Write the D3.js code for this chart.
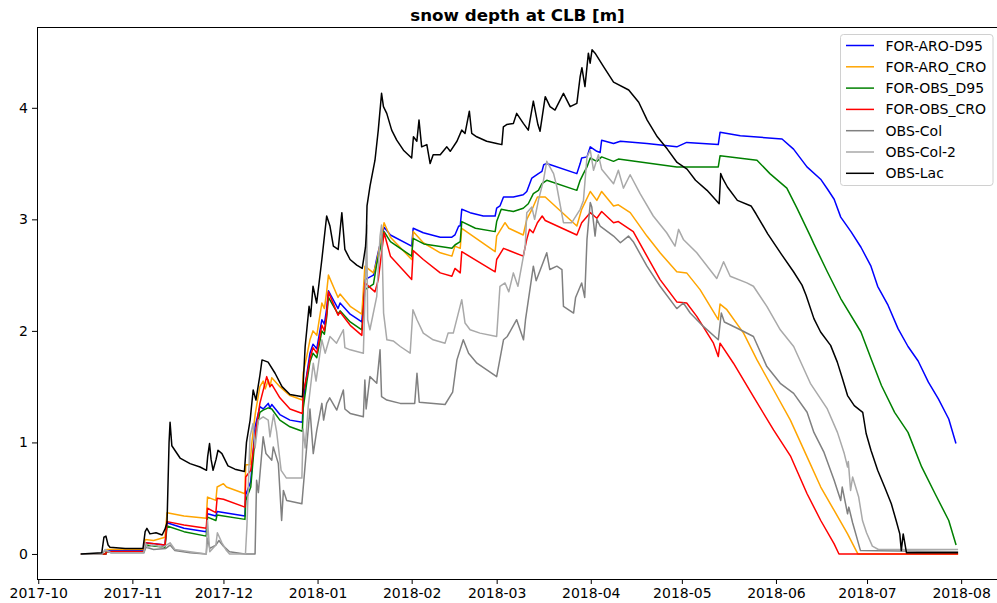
<!DOCTYPE html>
<html>
<head>
<meta charset="utf-8">
<script src="https://cdn.jsdelivr.net/npm/d3@7"></script>
<style>
  body { margin: 0; background: #fff; }
  text { font-family: "DejaVu Sans", sans-serif; }
</style>
</head>
<body>
<svg width="997" height="603"></svg>
<script>
// ---- data (date "YYYY-MM-DD HH", snow depth in m) ----
var forAroD95 = [["2017-10-15 00",0],["2017-10-23 06",0],["2017-10-23 12",0.03],["2017-11-04 18",0.03],["2017-11-05 04",0.1],["2017-11-11 18",0.08],["2017-11-12 10",0.28],["2017-11-18 00",0.23],["2017-11-25 08",0.2],["2017-11-25 18",0.36],["2017-11-28 12",0.34],["2017-11-28 22",0.38],["2017-12-08 02",0.34],["2017-12-08 08",0.53],["2017-12-10 00",0.65],["2017-12-11 10",1.14],["2017-12-13 00",1.32],["2017-12-14 02",1.3],["2017-12-15 18",1.35],["2017-12-16 08",1.31],["2017-12-16 22",1.34],["2017-12-19 14",1.25],["2017-12-22 22",1.2],["2017-12-27 00",1.18],["2017-12-27 06",1.37],["2017-12-28 12",1.62],["2017-12-29 12",1.8],["2017-12-30 12",1.88],["2017-12-31 18",1.84],["2018-01-02 10",2.1],["2018-01-03 06",2.06],["2018-01-04 00",2.2],["2018-01-04 14",2.36],["2018-01-07 18",2.2],["2018-01-08 10",2.25],["2018-01-11 18",2.15],["2018-01-15 14",2.08],["2018-01-16 14",2.46],["2018-01-19 10",2.5],["2018-01-20 12",2.65],["2018-01-22 22",2.93],["2018-01-25 00",2.86],["2018-02-01 00",2.76],["2018-02-01 12",2.92],["2018-02-04 20",2.88],["2018-02-10 10",2.84],["2018-02-14 06",2.84],["2018-02-15 06",2.86],["2018-02-16 12",2.94],["2018-02-17 00",2.94],["2018-02-17 12",3.09],["2018-02-20 06",3.06],["2018-02-24 14",3.03],["2018-02-28 12",3.03],["2018-03-01 00",3.1],["2018-03-02 02",3.12],["2018-03-03 06",3.2],["2018-03-06 12",3.2],["2018-03-09 18",3.22],["2018-03-10 22",3.25],["2018-03-12 14",3.37],["2018-03-14 18",3.41],["2018-03-15 22",3.43],["2018-03-16 12",3.49],["2018-03-17 12",3.5],["2018-03-27 10",3.41],["2018-03-28 12",3.5],["2018-03-29 00",3.55],["2018-03-30 18",3.56],["2018-03-31 20",3.65],["2018-04-03 00",3.61],["2018-04-04 02",3.6],["2018-04-04 14",3.71],["2018-04-08 12",3.68],["2018-04-10 18",3.7],["2018-04-19 12",3.68],["2018-04-29 08",3.65],["2018-05-02 14",3.69],["2018-05-13 00",3.67],["2018-05-13 14",3.78],["2018-05-20 06",3.75],["2018-06-03 00",3.72],["2018-06-06 19",3.63],["2018-06-11 05",3.47],["2018-06-15 17",3.36],["2018-06-18 00",3.27],["2018-06-20 04",3.18],["2018-06-22 08",3.02],["2018-06-25 17",2.89],["2018-06-29 00",2.75],["2018-07-02 07",2.58],["2018-07-04 12",2.4],["2018-07-07 22",2.23],["2018-07-11 05",2.02],["2018-07-14 12",1.86],["2018-07-17 20",1.73],["2018-07-21 05",1.54],["2018-07-24 12",1.39],["2018-07-27 22",1.21],["2018-07-30 07",0.99]];

var forAroCro = [["2017-10-15 00",0],["2017-10-23 06",0],["2017-10-23 12",0.04],["2017-11-04 18",0.04],["2017-11-05 04",0.13],["2017-11-08 00",0.12],["2017-11-11 18",0.15],["2017-11-12 10",0.37],["2017-11-18 00",0.34],["2017-11-25 08",0.32],["2017-11-25 18",0.51],["2017-11-28 12",0.48],["2017-11-28 22",0.6],["2017-12-01 00",0.63],["2017-12-02 00",0.6],["2017-12-08 02",0.54],["2017-12-08 08",0.8],["2017-12-09 18",0.8],["2017-12-10 08",0.99],["2017-12-11 00",1.15],["2017-12-11 12",1.26],["2017-12-13 00",1.5],["2017-12-14 02",1.55],["2017-12-14 18",1.48],["2017-12-15 18",1.56],["2017-12-16 08",1.5],["2017-12-16 22",1.58],["2017-12-19 14",1.5],["2017-12-22 22",1.42],["2017-12-27 00",1.38],["2017-12-27 06",1.62],["2017-12-28 12",1.78],["2017-12-29 12",1.92],["2017-12-30 12",2.0],["2017-12-31 18",1.96],["2018-01-02 10",2.25],["2018-01-03 06",2.2],["2018-01-04 00",2.35],["2018-01-04 14",2.5],["2018-01-07 18",2.3],["2018-01-08 10",2.33],["2018-01-11 18",2.22],["2018-01-15 14",2.15],["2018-01-16 14",2.58],["2018-01-19 10",2.52],["2018-01-20 12",2.62],["2018-01-22 22",2.97],["2018-01-25 00",2.84],["2018-02-01 00",2.64],["2018-02-01 12",2.89],["2018-02-04 20",2.79],["2018-02-10 10",2.7],["2018-02-14 06",2.67],["2018-02-15 06",2.76],["2018-02-17 00",2.74],["2018-02-17 12",2.92],["2018-02-28 12",2.71],["2018-03-01 00",2.85],["2018-03-03 18",2.97],["2018-03-05 00",2.92],["2018-03-09 18",2.86],["2018-03-10 22",3.0],["2018-03-13 00",3.11],["2018-03-14 10",3.2],["2018-03-17 00",3.2],["2018-03-27 10",2.94],["2018-03-29 00",3.09],["2018-03-31 20",3.25],["2018-04-03 00",3.17],["2018-04-04 14",3.25],["2018-04-08 12",3.12],["2018-04-10 02",3.13],["2018-04-14 00",3.06],["2018-04-19 12",2.85],["2018-04-23 20",2.7],["2018-04-29 08",2.53],["2018-05-02 14",2.52],["2018-05-07 00",2.37],["2018-05-13 00",2.1],["2018-05-13 14",2.24],["2018-05-15 20",2.19],["2018-05-21 08",1.98],["2018-05-25 18",1.74],["2018-05-31 06",1.47],["2018-06-05 18",1.2],["2018-06-11 06",0.87],["2018-06-15 18",0.6],["2018-06-20 04",0.39],["2018-06-24 14",0.18],["2018-06-27 10",0.03],["2018-06-28 00",0],["2018-07-31 00",0]];

var forObsD95 = [["2017-10-15 00",0],["2017-10-23 06",0],["2017-10-23 12",0.02],["2017-11-04 18",0.02],["2017-11-05 04",0.08],["2017-11-11 18",0.06],["2017-11-12 10",0.25],["2017-11-18 00",0.2],["2017-11-25 08",0.16],["2017-11-25 18",0.33],["2017-11-28 12",0.3],["2017-11-28 22",0.35],["2017-12-08 02",0.31],["2017-12-08 08",0.48],["2017-12-10 00",0.6],["2017-12-11 10",1.05],["2017-12-13 00",1.27],["2017-12-14 02",1.29],["2017-12-15 18",1.31],["2017-12-16 22",1.3],["2017-12-19 14",1.2],["2017-12-22 22",1.14],["2017-12-27 00",1.1],["2017-12-27 06",1.3],["2017-12-28 12",1.55],["2017-12-29 12",1.72],["2017-12-30 12",1.8],["2017-12-31 18",1.76],["2018-01-02 10",2.0],["2018-01-03 06",1.97],["2018-01-04 00",2.12],["2018-01-04 14",2.3],["2018-01-07 18",2.15],["2018-01-08 10",2.18],["2018-01-11 18",2.08],["2018-01-15 14",2.01],["2018-01-16 14",2.37],["2018-01-19 10",2.42],["2018-01-20 12",2.6],["2018-01-22 22",2.89],["2018-01-25 00",2.8],["2018-02-01 00",2.67],["2018-02-01 12",2.83],["2018-02-05 00",2.78],["2018-02-14 06",2.74],["2018-02-15 06",2.77],["2018-02-17 00",2.8],["2018-02-17 12",2.98],["2018-02-22 00",2.92],["2018-02-28 12",2.89],["2018-03-01 00",2.98],["2018-03-02 12",3.09],["2018-03-06 12",3.07],["2018-03-09 18",3.1],["2018-03-11 10",3.14],["2018-03-13 02",3.23],["2018-03-14 18",3.26],["2018-03-15 22",3.32],["2018-03-17 12",3.35],["2018-03-27 10",3.26],["2018-03-28 12",3.35],["2018-03-29 14",3.41],["2018-03-30 18",3.47],["2018-03-31 20",3.55],["2018-04-03 00",3.52],["2018-04-04 14",3.56],["2018-04-08 12",3.52],["2018-04-10 02",3.54],["2018-04-29 08",3.47],["2018-05-13 00",3.47],["2018-05-13 14",3.57],["2018-05-25 18",3.53],["2018-05-30 00",3.41],["2018-06-04 14",3.28],["2018-06-07 22",3.1],["2018-06-12 08",2.85],["2018-06-13 12",2.78],["2018-06-17 22",2.53],["2018-06-22 08",2.29],["2018-06-29 00",1.99],["2018-07-02 08",1.75],["2018-07-05 18",1.51],["2018-07-10 02",1.27],["2018-07-14 12",1.09],["2018-07-19 00",0.78],["2018-07-23 10",0.54],["2018-07-27 22",0.3],["2018-07-30 08",0.08]];

var forObsCro = [["2017-10-15 00",0],["2017-10-23 06",0],["2017-10-23 12",0.02],["2017-11-04 18",0.02],["2017-11-05 04",0.1],["2017-11-11 18",0.08],["2017-11-12 10",0.29],["2017-11-18 00",0.26],["2017-11-25 08",0.23],["2017-11-25 18",0.41],["2017-11-28 12",0.37],["2017-11-28 22",0.5],["2017-12-01 00",0.49],["2017-12-08 02",0.42],["2017-12-08 08",0.69],["2017-12-10 00",0.75],["2017-12-11 10",1.05],["2017-12-13 00",1.35],["2017-12-15 06",1.59],["2017-12-16 08",1.5],["2017-12-16 22",1.52],["2017-12-19 14",1.4],["2017-12-22 22",1.3],["2017-12-27 00",1.26],["2017-12-27 06",1.45],["2017-12-28 12",1.6],["2017-12-29 12",1.75],["2017-12-30 12",1.85],["2017-12-31 18",1.8],["2018-01-02 10",2.05],["2018-01-03 06",2.0],["2018-01-04 00",2.15],["2018-01-04 14",2.35],["2018-01-07 18",2.14],["2018-01-08 10",2.17],["2018-01-11 18",2.05],["2018-01-15 14",1.96],["2018-01-16 14",2.43],["2018-01-19 22",2.35],["2018-01-21 00",2.46],["2018-01-22 22",2.88],["2018-01-25 00",2.67],["2018-02-01 00",2.46],["2018-02-01 12",2.72],["2018-02-04 20",2.64],["2018-02-10 10",2.52],["2018-02-14 06",2.49],["2018-02-15 06",2.56],["2018-02-17 00",2.52],["2018-02-17 12",2.71],["2018-02-28 12",2.53],["2018-03-01 00",2.64],["2018-03-03 06",2.74],["2018-03-09 18",2.67],["2018-03-10 22",2.82],["2018-03-11 20",2.91],["2018-03-13 00",2.88],["2018-03-14 10",2.97],["2018-03-16 00",3.03],["2018-03-17 00",2.99],["2018-03-27 10",2.86],["2018-03-29 00",2.97],["2018-03-31 20",3.06],["2018-04-03 00",3.01],["2018-04-04 14",3.07],["2018-04-08 12",2.97],["2018-04-10 02",2.98],["2018-04-15 00",2.89],["2018-04-19 12",2.67],["2018-04-23 20",2.46],["2018-04-29 08",2.26],["2018-05-02 14",2.25],["2018-05-05 22",2.13],["2018-05-11 10",1.89],["2018-05-13 00",1.77],["2018-05-13 14",1.89],["2018-05-18 00",1.71],["2018-05-24 14",1.41],["2018-05-31 06",1.11],["2018-06-05 18",0.88],["2018-06-11 06",0.54],["2018-06-15 18",0.3],["2018-06-20 04",0.09],["2018-06-21 18",0],["2018-07-31 00",0]];

var obsCol = [["2017-10-15 00",0],["2017-10-22 00",0],["2017-10-23 00",0.03],["2017-10-25 00",0.01],["2017-11-04 18",0.01],["2017-11-05 12",0.06],["2017-11-08 00",0.04],["2017-11-12 00",0.05],["2017-11-13 10",0.08],["2017-11-15 00",0.03],["2017-11-20 00",0.01],["2017-11-25 08",0],["2017-11-25 18",0.14],["2017-11-26 12",0.05],["2017-11-28 12",0.08],["2017-11-29 12",0.12],["2017-12-01 00",0.07],["2017-12-03 00",0.02],["2017-12-08 00",0],["2017-12-11 10",0],["2017-12-11 22",0.66],["2017-12-12 12",0.55],["2017-12-14 02",1.05],["2017-12-15 00",0.9],["2017-12-16 22",0.84],["2017-12-17 10",0.96],["2017-12-19 02",0.81],["2017-12-20 04",0.3],["2017-12-20 18",0.57],["2017-12-21 20",0.48],["2017-12-26 20",0.45],["2017-12-28 10",0.96],["2017-12-29 12",1.3],["2017-12-30 14",0.9],["2017-12-31 18",1.11],["2018-01-02 10",1.35],["2018-01-03 00",1.2],["2018-01-04 00",1.35],["2018-01-05 00",1.4],["2018-01-07 08",1.29],["2018-01-09 12",1.47],["2018-01-10 00",1.3],["2018-01-11 18",1.26],["2018-01-16 02",1.23],["2018-01-16 14",1.56],["2018-01-17 00",1.3],["2018-01-18 06",1.59],["2018-01-20 12",1.53],["2018-01-21 14",1.83],["2018-01-22 02",1.41],["2018-01-23 20",1.38],["2018-01-28 06",1.35],["2018-02-02 00",1.35],["2018-02-02 18",1.62],["2018-02-03 12",1.36],["2018-02-12 00",1.34],["2018-02-14 12",1.45],["2018-02-15 22",1.74],["2018-02-18 00",1.92],["2018-02-19 18",1.8],["2018-02-22 12",1.71],["2018-02-25 18",1.65],["2018-03-01 00",1.59],["2018-03-03 06",1.92],["2018-03-04 12",1.95],["2018-03-07 14",2.1],["2018-03-09 20",1.92],["2018-03-10 12",2.1],["2018-03-13 02",2.58],["2018-03-14 00",2.45],["2018-03-17 12",2.7],["2018-03-18 12",2.55],["2018-03-20 20",2.58],["2018-03-22 12",2.55],["2018-03-23 00",2.22],["2018-03-26 08",2.16],["2018-03-27 00",2.3],["2018-03-29 00",2.43],["2018-03-30 00",2.3],["2018-03-30 18",2.82],["2018-03-31 20",3.15],["2018-04-01 08",3.11],["2018-04-02 10",2.85],["2018-04-03 00",3.0],["2018-04-04 02",2.94],["2018-04-08 12",2.85],["2018-04-10 18",2.79],["2018-04-13 10",2.85],["2018-04-15 00",2.8],["2018-04-19 12",2.58],["2018-04-23 20",2.4],["2018-04-29 08",2.2],["2018-05-01 12",2.25],["2018-05-03 18",2.16],["2018-05-08 02",2.04],["2018-05-13 00",1.92],["2018-05-14 00",2.16],["2018-05-15 00",2.08],["2018-05-20 06",2.01],["2018-05-24 14",1.95],["2018-05-29 00",1.68],["2018-06-02 10",1.53],["2018-06-06 20",1.44],["2018-06-11 06",1.27],["2018-06-13 12",1.09],["2018-06-16 20",0.91],["2018-06-20 04",0.66],["2018-06-22 08",0.48],["2018-06-22 20",0.6],["2018-06-24 14",0.36],["2018-06-25 00",0.42],["2018-06-26 06",0.28],["2018-06-27 12",0.16],["2018-06-28 20",0.03],["2018-07-31 00",0.02]];

var obsCol2 = [["2017-10-15 00",0],["2017-10-22 00",0],["2017-10-23 00",0.04],["2017-10-25 00",0.01],["2017-11-04 18",0.01],["2017-11-05 06",0.1],["2017-11-06 00",0.06],["2017-11-08 00",0.08],["2017-11-11 00",0.06],["2017-11-13 10",0.1],["2017-11-15 00",0.04],["2017-11-20 00",0.02],["2017-11-25 08",0],["2017-11-25 18",0.3],["2017-11-26 12",0.02],["2017-11-28 12",0.08],["2017-11-29 00",0.19],["2017-11-30 12",0.1],["2017-12-02 00",0.03],["2017-12-03 00",0],["2017-12-08 06",0],["2017-12-08 18",0.26],["2017-12-09 18",1.05],["2017-12-10 18",1.17],["2017-12-11 10",0.95],["2017-12-12 12",1.2],["2017-12-14 02",1.23],["2017-12-15 18",1.2],["2017-12-16 08",1.05],["2017-12-17 12",1.25],["2017-12-18 12",1.1],["2017-12-20 00",0.75],["2017-12-21 18",0.68],["2017-12-26 20",0.68],["2017-12-27 06",1.12],["2017-12-27 22",0.95],["2017-12-28 22",1.32],["2017-12-30 14",1.71],["2017-12-31 12",1.55],["2018-01-02 10",1.92],["2018-01-03 12",1.8],["2018-01-05 02",1.95],["2018-01-07 06",1.89],["2018-01-09 12",2.01],["2018-01-10 00",1.85],["2018-01-11 18",1.83],["2018-01-16 02",1.8],["2018-01-16 20",2.5],["2018-01-17 05",2.95],["2018-01-17 12",2.1],["2018-01-18 06",2.01],["2018-01-20 12",2.31],["2018-01-21 14",2.85],["2018-01-22 02",2.95],["2018-01-22 18",2.16],["2018-01-23 20",1.92],["2018-01-25 22",1.91],["2018-01-28 06",1.86],["2018-01-31 12",1.8],["2018-02-01 10",2.19],["2018-02-02 18",2.1],["2018-02-04 20",1.98],["2018-02-08 02",1.92],["2018-02-12 00",1.89],["2018-02-13 00",1.98],["2018-02-14 17",1.98],["2018-02-17 12",2.28],["2018-02-18 14",2.07],["2018-02-20 06",2.01],["2018-02-23 12",1.98],["2018-03-01 00",1.95],["2018-03-02 02",2.4],["2018-03-03 18",2.43],["2018-03-05 00",2.35],["2018-03-06 12",2.52],["2018-03-08 00",2.4],["2018-03-10 10",2.76],["2018-03-10 22",3.06],["2018-03-12 14",3.11],["2018-03-13 12",3.0],["2018-03-14 18",3.17],["2018-03-16 10",3.35],["2018-03-17 12",3.52],["2018-03-19 18",3.41],["2018-03-20 20",3.29],["2018-03-23 00",2.97],["2018-03-25 18",2.97],["2018-03-28 12",3.09],["2018-03-29 14",3.17],["2018-03-30 18",3.56],["2018-03-31 20",3.62],["2018-04-01 22",3.44],["2018-04-03 12",3.58],["2018-04-04 14",3.45],["2018-04-08 12",3.32],["2018-04-10 02",3.44],["2018-04-11 18",3.28],["2018-04-13 23",3.4],["2018-04-17 06",3.23],["2018-04-21 14",3.03],["2018-04-26 00",2.88],["2018-04-28 18",2.76],["2018-04-29 22",2.91],["2018-05-01 12",2.82],["2018-05-05 22",2.7],["2018-05-12 12",2.47],["2018-05-14 18",2.62],["2018-05-16 22",2.49],["2018-05-22 10",2.43],["2018-05-24 14",2.4],["2018-05-29 00",2.22],["2018-06-02 10",2.01],["2018-06-06 20",1.86],["2018-06-12 08",1.53],["2018-06-17 22",1.3],["2018-06-21 06",1.09],["2018-06-23 12",0.9],["2018-06-24 14",0.78],["2018-06-24 20",0.83],["2018-06-25 14",0.57],["2018-06-26 06",0.69],["2018-06-28 06",0.51],["2018-06-29 12",0.3],["2018-06-30 20",0.19],["2018-07-02 18",0.07],["2018-07-04 18",0.04],["2018-07-31 00",0.04]];

var obsLac = [["2017-10-15 02",0],["2017-10-21 22",0.01],["2017-10-22 15",0.15],["2017-10-23 07",0.16],["2017-10-24 00",0.08],["2017-10-24 15",0.06],["2017-10-29 15",0.05],["2017-11-04 12",0.05],["2017-11-05 05",0.2],["2017-11-05 19",0.23],["2017-11-06 19",0.18],["2017-11-08 19",0.19],["2017-11-10 19",0.17],["2017-11-11 17",0.22],["2017-11-12 10",0.28],["2017-11-13 02",1.0],["2017-11-13 10",1.18],["2017-11-14 00",0.97],["2017-11-16 17",0.86],["2017-11-20 00",0.81],["2017-11-23 07",0.78],["2017-11-25 10",0.75],["2017-11-25 19",0.87],["2017-11-26 10",0.99],["2017-11-26 22",0.85],["2017-11-27 14",0.75],["2017-11-28 14",0.85],["2017-11-29 05",0.93],["2017-11-30 12",0.9],["2017-12-02 12",0.79],["2017-12-04 19",0.76],["2017-12-07 22",0.74],["2017-12-08 14",1.0],["2017-12-09 19",1.2],["2017-12-10 19",1.47],["2017-12-11 17",1.38],["2017-12-12 10",1.5],["2017-12-13 00",1.6],["2017-12-13 17",1.74],["2017-12-15 17",1.72],["2017-12-18 00",1.62],["2017-12-20 07",1.5],["2017-12-22 22",1.43],["2017-12-27 01",1.41],["2017-12-27 22",1.86],["2017-12-29 05",2.22],["2017-12-29 17",2.13],["2017-12-30 12",2.4],["2017-12-31 17",2.25],["2018-01-02 10",2.64],["2018-01-04 00",3.03],["2018-01-05 02",2.94],["2018-01-06 05",2.76],["2018-01-07 19",2.73],["2018-01-09 00",3.06],["2018-01-10 00",2.73],["2018-01-11 17",2.64],["2018-01-13 22",2.59],["2018-01-15 17",2.56],["2018-01-16 19",2.75],["2018-01-17 02",2.88],["2018-01-17 07",3.12],["2018-01-18 07",3.3],["2018-01-19 22",3.53],["2018-01-21 00",3.8],["2018-01-22 02",4.13],["2018-01-22 17",4.01],["2018-01-23 19",3.95],["2018-01-25 10",3.8],["2018-01-27 02",3.71],["2018-01-29 07",3.62],["2018-02-01 00",3.55],["2018-02-01 14",3.74],["2018-02-02 17",3.7],["2018-02-03 10",3.89],["2018-02-04 07",3.65],["2018-02-06 00",3.67],["2018-02-07 02",3.5],["2018-02-08 02",3.58],["2018-02-10 10",3.58],["2018-02-12 14",3.65],["2018-02-13 17",3.61],["2018-02-15 22",3.7],["2018-02-17 12",3.8],["2018-02-18 14",3.77],["2018-02-20 00",3.97],["2018-02-20 19",3.77],["2018-02-22 10",3.74],["2018-02-25 17",3.7],["2018-03-01 00",3.68],["2018-03-02 17",3.67],["2018-03-03 05",3.83],["2018-03-04 07",3.85],["2018-03-06 12",3.86],["2018-03-07 14",3.95],["2018-03-09 19",3.86],["2018-03-11 10",3.8],["2018-03-13 02",4.06],["2018-03-14 14",3.85],["2018-03-15 07",3.79],["2018-03-17 00",4.1],["2018-03-18 14",4.01],["2018-03-20 05",3.98],["2018-03-23 00",4.13],["2018-03-25 05",4.01],["2018-03-27 10",4.04],["2018-03-28 12",4.28],["2018-03-29 02",4.36],["2018-03-30 02",4.19],["2018-03-31 05",4.49],["2018-03-31 19",4.4],["2018-04-01 10",4.52],["2018-04-02 10",4.49],["2018-04-05 05",4.37],["2018-04-08 12",4.23],["2018-04-13 12",4.16],["2018-04-16 19",4.05],["2018-04-19 14",3.89],["2018-04-22 22",3.74],["2018-04-26 05",3.63],["2018-04-29 10",3.51],["2018-05-02 17",3.45],["2018-05-05 12",3.35],["2018-05-09 07",3.26],["2018-05-13 07",3.14],["2018-05-13 19",3.41],["2018-05-14 14",3.36],["2018-05-16 00",3.29],["2018-05-19 07",3.17],["2018-05-23 19",3.12],["2018-05-25 10",3.05],["2018-05-29 07",2.87],["2018-06-02 17",2.69],["2018-06-06 19",2.53],["2018-06-09 14",2.41],["2018-06-10 22",2.32],["2018-06-13 12",2.11],["2018-06-15 17",1.99],["2018-06-19 00",1.87],["2018-06-21 05",1.72],["2018-06-22 22",1.57],["2018-06-24 14",1.42],["2018-06-26 19",1.33],["2018-06-29 14",1.27],["2018-06-30 17",1.08],["2018-07-02 07",0.93],["2018-07-04 12",0.75],["2018-07-06 19",0.6],["2018-07-09 00",0.45],["2018-07-10 14",0.3],["2018-07-11 19",0.18],["2018-07-12 07",0.03],["2018-07-12 22",0.18],["2018-07-14 00",0.01],["2018-07-31 00",0.01]];

var seriesNames = ["FOR-ARO-D95", "FOR-ARO_CRO", "FOR-OBS_D95", "FOR-OBS_CRO", "OBS-Col", "OBS-Col-2", "OBS-Lac"];
var seriesData = [forAroD95, forAroCro, forObsD95, forObsCro, obsCol, obsCol2, obsLac];
var seriesColors = ["#0000ff", "#ffa500", "#008000", "#ff0000", "#808080", "#a9a9a9", "#000000"];
var yTicks = [0, 1, 2, 3, 4];
var xTicks = ["2017-10-01 00", "2017-11-01 00", "2017-12-01 00", "2018-01-01 00", "2018-02-01 00", "2018-03-01 00", "2018-04-01 00", "2018-05-01 00", "2018-06-01 00", "2018-07-01 00", "2018-08-01 00"];

var svg = d3.select("svg");
var parse = d3.utcParse("%Y-%m-%d %H");

var plotLeft = 37, plotRight = 1002, plotTop = 27, plotBottom = 579;
var x = d3.scaleUtc().domain([parse("2017-09-30 14"), parse("2018-08-14 11")]).range([plotLeft, plotRight]);
var y = d3.scaleLinear().domain([-0.2245, 4.7245]).range([plotBottom, plotTop]);

svg.append("defs").append("clipPath").attr("id", "plot")
  .append("rect").attr("x", plotLeft).attr("y", plotTop)
  .attr("width", plotRight - plotLeft).attr("height", plotBottom - plotTop);

var line = d3.line()
  .x(function(d) { return x(parse(d[0])); })
  .y(function(d) { return y(d[1]); });

var g = svg.append("g").attr("clip-path", "url(#plot)");
seriesData.forEach(function(s, i) {
  g.append("path")
    .attr("d", line(s))
    .attr("fill", "none")
    .attr("stroke", seriesColors[i])
    .attr("stroke-width", 1.5)
    .attr("stroke-linejoin", "round");
});

// axes
var xAxis = svg.append("g")
  .attr("transform", "translate(0," + plotBottom + ")")
  .call(d3.axisBottom(x).tickValues(xTicks.map(parse)).tickFormat(d3.utcFormat("%Y-%m")).tickSize(5).tickPadding(4));
var yAxis = svg.append("g")
  .attr("transform", "translate(" + plotLeft + ",0)")
  .call(d3.axisLeft(y).tickValues(yTicks).tickFormat(d3.format("d")).tickSize(5).tickPadding(4));
[xAxis, yAxis].forEach(function(a) {
  a.select(".domain").remove();
  a.selectAll("line").attr("stroke", "#000").attr("stroke-width", 1);
  a.selectAll("text").attr("fill", "#000").style("font-size", "14px").style("font-family", "DejaVu Sans");
});

// spines (right one falls outside the picture)
svg.append("path")
  .attr("d", "M" + plotRight + "," + plotTop + "H" + plotLeft + "V" + plotBottom + "H" + plotRight)
  .attr("fill", "none").attr("stroke", "#000").attr("stroke-width", 1)
  .attr("shape-rendering", "crispEdges");

// title
svg.append("text")
  .attr("x", (plotLeft + plotRight) / 2 - 2).attr("y", 21)
  .attr("text-anchor", "middle")
  .style("font-size", "16.7px").style("font-weight", "bold")
  .text("snow depth at CLB [m]");

// legend
var leg = svg.append("g");
leg.append("rect")
  .attr("x", 840.5).attr("y", 34.5).attr("width", 152.5).attr("height", 151)
  .attr("rx", 3).attr("fill", "#fff").attr("fill-opacity", 0.8)
  .attr("stroke", "#d0d0d0").attr("stroke-width", 1);
seriesNames.forEach(function(name, i) {
  var yy = 45.5 + i * 21.3;
  leg.append("line")
    .attr("x1", 846).attr("x2", 874).attr("y1", yy).attr("y2", yy)
    .attr("stroke", seriesColors[i]).attr("stroke-width", 1.5);
  leg.append("text")
    .attr("x", 885.5).attr("y", yy + 5)
    .style("font-size", "14px")
    .text(name);
});
</script>
</body>
</html>
